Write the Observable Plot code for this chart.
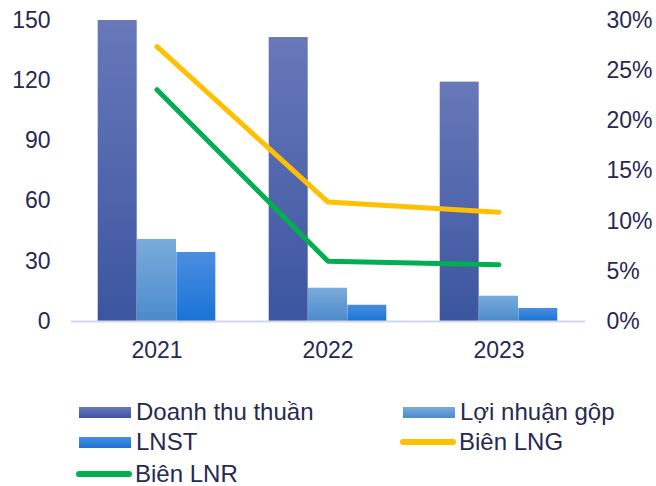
<!DOCTYPE html>
<html>
<head>
<meta charset="utf-8">
<script src="https://cdn.jsdelivr.net/npm/d3@7"></script>
<script src="https://cdn.jsdelivr.net/npm/@observablehq/plot@0.6"></script>
<style>
  html, body { margin: 0; padding: 0; background: #ffffff; }
  #wrap { position: relative; width: 656px; height: 486px; font-family: "Liberation Sans", Arial, sans-serif; color: #262a52; }
  #chart svg { display: block; }
  .leg { position: absolute; display: flex; align-items: center; font-size: 24px; line-height: 1; white-space: nowrap; }
  .sw { width: 52px; height: 11px; margin-right: 5px; }
  .ln { width: 56px; height: 6px; border-radius: 3px; margin-right: 3px; }
</style>
</head>
<body>
<div id="wrap">
  <div id="chart"></div>
  <div id="legend"></div>
</div>
<script>
// ---- data ----
const years = ["2021", "2022", "2023"];
const doanhThu = [150, 141.5, 119.3];      // Doanh thu thuần
const loiNhuanGop = [40.9, 16.6, 12.6];    // Lợi nhuận gộp
const lnst = [34.4, 8.1, 6.5];             // LNST
const bienLNG = [27.4, 11.9, 10.9];        // Biên LNG (%)
const bienLNR = [23.1, 6.0, 5.65];         // Biên LNR (%)
const leftTicks = [0, 30, 60, 90, 120, 150];
const rightTicks = [0, 5, 10, 15, 20, 25, 30];
const seriesNames = ["Doanh thu thuần", "Lợi nhuận gộp", "LNST", "Biên LNG", "Biên LNR"];

const ratio = 150 / 30; // right axis (%) mapped onto left axis units

const barRows = (vals) => years.map((y, i) => ({year: y, value: vals[i]}));
const lineRows = (vals) => years.map((y, i) => ({year: y, value: vals[i] * ratio}));

const defs = () => {
  const ns = "http://www.w3.org/2000/svg";
  const d = document.createElementNS(ns, "defs");
  const grads = [
    ["gDT", "#6878b9", "#3b55a0"],
    ["gLN", "#7aabdc", "#4a8bcb"],
    ["gNS", "#4b8de1", "#1874d6"]
  ];
  for (const [id, c1, c2] of grads) {
    const g = document.createElementNS(ns, "linearGradient");
    g.setAttribute("id", id);
    g.setAttribute("x1", "0"); g.setAttribute("y1", "0");
    g.setAttribute("x2", "0"); g.setAttribute("y2", "1");
    for (const [off, c] of [["0", c1], ["1", c2]]) {
      const s = document.createElementNS(ns, "stop");
      s.setAttribute("offset", off);
      s.setAttribute("stop-color", c);
      g.appendChild(s);
    }
    d.appendChild(g);
  }
  return d;
};

const bw = 39.3;
const chart = Plot.plot({
  width: 656,
  height: 380,
  marginLeft: 71,
  marginRight: 71,
  marginTop: 20,
  marginBottom: 59,
  style: {fontFamily: "Liberation Sans, Arial, sans-serif", fontSize: "23px", color: "#262a52", background: "transparent"},
  x: {type: "band", domain: years, paddingInner: 0.7706, paddingOuter: 0.3853, label: null},
  y: {domain: [0, 150], label: null},
  marks: [
    defs,
    Plot.barY(barRows(doanhThu), {x: "year", y: "value", fill: "url(#gDT)", dx: -bw}),
    Plot.barY(barRows(loiNhuanGop), {x: "year", y: "value", fill: "url(#gLN)"}),
    Plot.barY(barRows(lnst), {x: "year", y: "value", fill: "url(#gNS)", dx: bw}),
    Plot.ruleY([0], {stroke: "#d3d6ec", strokeWidth: 2}),
    Plot.lineY(lineRows(bienLNG), {x: "year", y: "value", stroke: "#ffc000", strokeWidth: 5, strokeLinecap: "round"}),
    Plot.lineY(lineRows(bienLNR), {x: "year", y: "value", stroke: "#00b050", strokeWidth: 5, strokeLinecap: "round"}),
    Plot.axisX({tickSize: 0, tickPadding: 20, fontSize: 23}),
    Plot.axisY({anchor: "left", ticks: leftTicks, tickSize: 0, tickPadding: 21, fontSize: 23}),
    Plot.axisY({anchor: "right", ticks: rightTicks.map(t => t * ratio), tickFormat: d => (d / ratio) + "%", tickSize: 0, tickPadding: 21, fontSize: 23})
  ]
});
document.getElementById("chart").appendChild(chart);

// ---- legend ----
const legendItems = [
  {name: seriesNames[0], kind: "sw", bg: "linear-gradient(#6878b9,#3b55a0)", left: 79, top: 399},
  {name: seriesNames[1], kind: "sw", bg: "linear-gradient(#7aabdc,#4a8bcb)", left: 403, top: 399},
  {name: seriesNames[2], kind: "sw", bg: "linear-gradient(#4b8de1,#1874d6)", left: 79, top: 429},
  {name: seriesNames[3], kind: "ln", bg: "#ffc000", left: 400, top: 429},
  {name: seriesNames[4], kind: "ln", bg: "#00b050", left: 76, top: 461}
];
const leg = document.getElementById("legend");
for (const it of legendItems) {
  const row = document.createElement("div");
  row.className = "leg";
  row.style.left = it.left + "px";
  row.style.top = it.top + "px";
  row.style.height = "26px";
  const sw = document.createElement("span");
  sw.className = it.kind;
  sw.style.background = it.bg;
  const tx = document.createElement("span");
  tx.textContent = it.name;
  row.appendChild(sw);
  row.appendChild(tx);
  leg.appendChild(row);
}
</script>
</body>
</html>
